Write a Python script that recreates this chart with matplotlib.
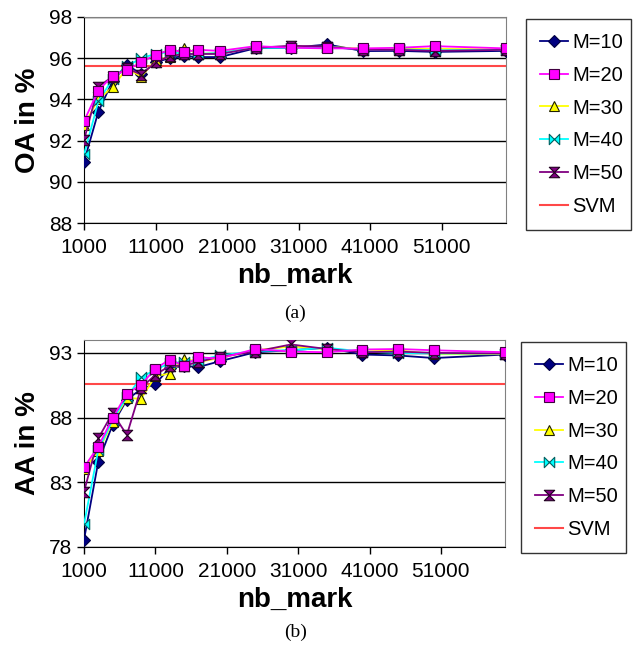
import matplotlib
matplotlib.use("Agg")
import matplotlib.pyplot as plt
from matplotlib.path import Path
import numpy as np

plt.rcParams['font.family'] = ['Liberation Sans', 'DejaVu Sans']

nb_mark = [1000, 3000, 5000, 7000, 9000, 11000, 13000, 15000, 17000, 20000,
           25000, 30000, 35000, 40000, 45000, 50000, 60000]

# (a) Overall accuracy
oa_m10 = [90.98, 93.4, 94.9, 95.68, 95.22, 95.8, 96.0, 96.1, 96.05, 96.05,
          96.48, 96.5, 96.66, 96.34, 96.35, 96.3, 96.35]
oa_m20 = [92.95, 94.43, 95.14, 95.43, 95.8, 96.16, 96.4, 96.3, 96.4, 96.35,
          96.58, 96.5, 96.47, 96.47, 96.5, 96.58, 96.47]
oa_m30 = [92.75, 94.0, 94.6, 95.5, 95.1, 95.9, 96.05, 96.5, 96.2, 96.25,
          96.52, 96.55, 96.55, 96.45, 96.45, 96.45, 96.42]
oa_m40 = [91.33, 93.9, 95.0, 95.6, 96.0, 96.2, 96.3, 96.2, 96.2, 96.25,
          96.5, 96.5, 96.55, 96.4, 96.42, 96.38, 96.4]
oa_m50 = [92.03, 94.62, 95.1, 95.5, 95.2, 95.8, 96.1, 96.2, 96.2, 96.2,
          96.5, 96.6, 96.55, 96.4, 96.4, 96.35, 96.4]
oa_svm = 95.61

# (b) Average accuracy
aa_m10 = [78.57, 84.6, 87.44, 89.38, 90.2, 90.6, 91.84, 92.0, 91.9, 92.35,
          93.05, 93.2, 93.4, 92.87, 92.8, 92.6, 92.87]
aa_m20 = [84.16, 85.76, 87.96, 89.85, 90.54, 91.78, 92.48, 92.0, 92.66, 92.56,
          93.3, 93.1, 93.05, 93.26, 93.3, 93.2, 93.05]
aa_m30 = [84.0, 85.4, 87.65, 89.5, 89.46, 91.2, 91.4, 92.56, 92.3, 92.6,
          93.2, 93.5, 93.3, 93.1, 93.2, 92.9, 92.9]
aa_m40 = [79.76, 85.5, 87.8, 89.6, 91.1, 91.7, 92.2, 92.3, 92.4, 92.8,
          93.15, 93.2, 93.4, 93.1, 93.0, 92.95, 92.95]
aa_m50 = [82.27, 86.4, 88.35, 86.66, 90.3, 91.3, 92.0, 92.0, 92.3, 92.7,
          93.1, 93.65, 93.3, 93.05, 93.1, 93.0, 92.95]
aa_svm = 90.6

labels = ['M=10', 'M=20', 'M=30', 'M=40', 'M=50']

hourglass = Path([(-1, 1), (1, 1), (-1, -1), (1, -1), (-1, 1)],
                 [Path.MOVETO, Path.LINETO, Path.LINETO, Path.LINETO, Path.CLOSEPOLY])
bowtie = Path([(-1, -1), (-1, 1), (1, -1), (1, 1), (-1, -1)],
              [Path.MOVETO, Path.LINETO, Path.LINETO, Path.LINETO, Path.CLOSEPOLY])

styles = [
    dict(color='#000080', marker='D', mfc='#000080', mec='#000040', ms=6, z=3),
    dict(color='#FF00FF', marker='s', mfc='#FF00FF', mec='#400040', ms=7.5, z=7),
    dict(color='#FFFF00', marker='^', mfc='#FFFF00', mec='#202000', ms=7.5, z=4),
    dict(color='#00FFFF', marker=bowtie, mfc='#00FFFF', mec='#006060', ms=7.5, z=5),
    dict(color='#800080', marker=hourglass, mfc='#800080', mec='#200020', ms=7.5, z=6),
]

fig = plt.figure(figsize=(6.39, 6.47), dpi=100)

def draw(rect, series, svm, ylim, yticks, ylabel, legrect, tag, tag_y):
    ax = fig.add_axes(rect)
    for ys, lab, st in zip(series, labels, styles):
        ax.plot(nb_mark, ys, color=st['color'], lw=1.3, marker=st['marker'],
                mfc=st['mfc'], mec=st['mec'], mew=0.8, ms=st['ms'],
                label=lab, zorder=st['z'])
    ax.axhline(svm, color='#FF4848', lw=1.5, label='SVM', zorder=2)
    ax.set_xlim(1000, 60000)
    ax.set_ylim(*ylim)
    ax.set_xticks([1000, 11000, 21000, 31000, 41000, 51000])
    ax.set_yticks(yticks)
    ax.yaxis.grid(True, color='black', lw=1)
    ax.set_axisbelow(True)
    for s in ['top', 'right']:
        ax.spines[s].set_color('#808080')
    ax.tick_params(labelsize=15, direction='out', length=5, width=1)
    ax.tick_params(axis='x', pad=6)
    ax.set_ylabel(ylabel, fontsize=20, fontweight='bold', labelpad=6)
    ax.set_xlabel('nb_mark', fontsize=20, fontweight='bold', labelpad=4)
    leg = ax.legend(loc='center left', bbox_to_anchor=legrect,
                    bbox_transform=fig.transFigure, mode='expand',
                    fontsize=14.5, frameon=True, fancybox=False, edgecolor='black',
                    labelspacing=0.68, handlelength=1.4, handletextpad=0.2,
                    borderpad=0.7, borderaxespad=0)
    leg.get_frame().set_linewidth(1)
    fig.text(0.462, tag_y, tag, fontsize=14, family='Liberation Serif',
             ha='center', va='center')
    return ax

draw([0.1315, 0.655, 0.6605, 0.319],
     [oa_m10, oa_m20, oa_m30, oa_m40, oa_m50], oa_svm,
     (88, 98), [88, 90, 92, 94, 96, 98], 'OA in %',
     (0.823, 0.654, 0.164, 0.3076), '(a)', 1 - 313 / 647)

draw([0.1315, 0.1546, 0.659, 0.32],
     [aa_m10, aa_m20, aa_m30, aa_m40, aa_m50], aa_svm,
     (78, 94), [78, 83, 88, 93], 'AA in %',
     (0.815, 0.153, 0.164, 0.311), '(b)', 1 - 632 / 647)

fig.savefig('out.png', dpi=100)
